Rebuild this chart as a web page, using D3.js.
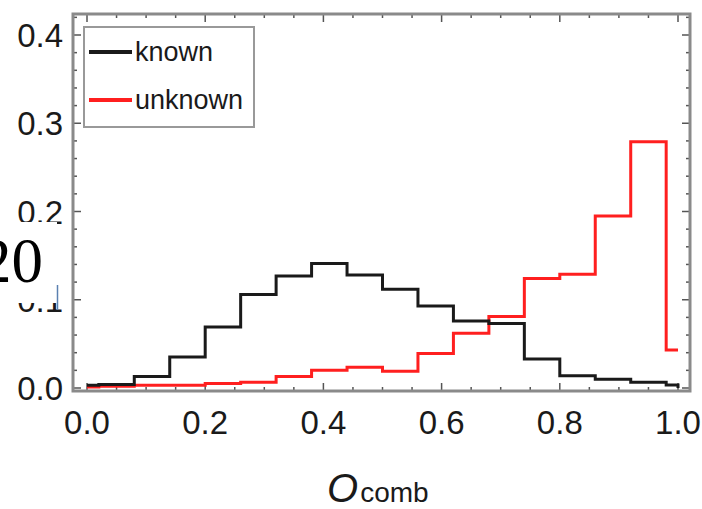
<html>
<head>
  <title>O_comb histogram</title>
  <script src='https://d3js.org/d3.v7.min.js'></script>
  <style>
    body { margin: 0; background: #fff; }
    text { font-family: 'Liberation Sans', Arial, sans-serif; fill: #1a1a1a; }
  </style>
</head>
<body>
<script>
  // bin edges and heights
  var binEdges = [0, 0.02, 0.08, 0.14, 0.20, 0.26, 0.32, 0.38, 0.44, 0.50, 0.56, 0.62, 0.68, 0.74, 0.80, 0.86, 0.92, 0.98, 1.0];
  var knownVals = [0.003, 0.004, 0.013, 0.035, 0.069, 0.106, 0.127, 0.141, 0.128, 0.112, 0.093, 0.076, 0.073, 0.033, 0.014, 0.010, 0.0065, 0.0035];
  var unknownVals = [0.001, 0.002, 0.003, 0.003, 0.005, 0.0065, 0.013, 0.020, 0.0235, 0.019, 0.039, 0.062, 0.081, 0.124, 0.129, 0.195, 0.279, 0.043];
  var xTicks = [0, 0.2, 0.4, 0.6, 0.8, 1.0];
  var yTicks = [0, 0.1, 0.2, 0.3, 0.4];
  var seriesNames = ['known', 'unknown'];
  var seriesColors = ['#1a1a1a', '#ff1f1f'];

  var width = 702, height = 509;
  var frame = {left: 73, right: 690, top: 14, bottom: 391};

  var svg = d3.select('body').append('svg')
    .attr('width', width)
    .attr('height', height);

  var x = d3.scaleLinear().domain([0, 1]).range([87, 678]);
  var y = d3.scaleLinear().domain([0, 0.4]).range([388, 35]);

  // ticks (inward, all four sides)
  var ticks = svg.append('g').attr('stroke', '#555').attr('stroke-width', 1.5);
  d3.range(0, 1.0001, 0.05).forEach(function(v) {
    var major = Math.abs(v * 5 - Math.round(v * 5)) < 1e-6;
    var len = major ? 8 : 4;
    ticks.append('line').attr('x1', x(v)).attr('x2', x(v)).attr('y1', frame.bottom).attr('y2', frame.bottom - len);
    ticks.append('line').attr('x1', x(v)).attr('x2', x(v)).attr('y1', frame.top).attr('y2', frame.top + len);
  });
  d3.range(0, 0.4201, 0.02).forEach(function(v) {
    var major = Math.abs(v * 10 - Math.round(v * 10)) < 1e-6;
    var len = major ? 8 : 4;
    ticks.append('line').attr('y1', y(v)).attr('y2', y(v)).attr('x1', frame.left).attr('x2', frame.left + len);
    ticks.append('line').attr('y1', y(v)).attr('y2', y(v)).attr('x1', frame.right).attr('x2', frame.right - len);
  });

  // step outlines
  function stepPoints(vals, dropEnd) {
    var pts = vals.map(function(v, i) { return [binEdges[i], v]; });
    pts.push([binEdges[binEdges.length - 1], vals[vals.length - 1]]);
    if (dropEnd) pts.push([binEdges[binEdges.length - 1], 0]);
    return pts;
  }
  var line = d3.line()
    .x(function(d) { return x(d[0]); })
    .y(function(d) { return y(d[1]); })
    .curve(d3.curveStepAfter);

  svg.append('path')
    .attr('d', line(stepPoints(unknownVals, false)))
    .attr('fill', 'none').attr('stroke', seriesColors[1]).attr('stroke-width', 3);
  svg.append('path')
    .attr('d', line(stepPoints(knownVals, true)))
    .attr('fill', 'none').attr('stroke', seriesColors[0]).attr('stroke-width', 3);

  // frame
  svg.append('rect')
    .attr('x', frame.left).attr('y', frame.top)
    .attr('width', frame.right - frame.left).attr('height', frame.bottom - frame.top)
    .attr('fill', 'none').attr('stroke', '#8a8a8a').attr('stroke-width', 3);

  // tick labels
  svg.append('g').selectAll('text').data(xTicks).enter().append('text')
    .attr('x', function(d) { return x(d); })
    .attr('y', 434)
    .attr('text-anchor', 'middle')
    .style('font-size', '33px')
    .text(function(d) { return d.toFixed(1); });
  svg.append('g').selectAll('text').data(yTicks).enter().append('text')
    .attr('x', 63)
    .attr('y', function(d) { return y(d) + 12; })
    .attr('text-anchor', 'end')
    .style('font-size', '33px')
    .text(function(d) { return d.toFixed(1); });

  // axis label
  var xl = svg.append('text').attr('x', 327).attr('y', 502);
  xl.append('tspan').style('font-size', '40px').style('font-style', 'italic').text('O');
  xl.append('tspan').style('font-size', '28px').attr('dx', 2).text('comb');

  // legend
  var legend = svg.append('g');
  legend.append('rect')
    .attr('x', 84).attr('y', 27).attr('width', 170).attr('height', 100)
    .attr('fill', '#fff').attr('stroke', '#999').attr('stroke-width', 2);
  seriesNames.forEach(function(name, i) {
    var ly = 52 + i * 48;
    legend.append('line')
      .attr('x1', 89).attr('x2', 132).attr('y1', ly).attr('y2', ly)
      .attr('stroke', seriesColors[i]).attr('stroke-width', 4);
    legend.append('text')
      .attr('x', 135).attr('y', ly + 9)
      .style('font-size', '27px')
      .text(name);
  });

  // pasted-over box on the left
  svg.append('rect')
    .attr('x', 0).attr('y', 222).attr('width', 57).attr('height', 81)
    .attr('fill', '#fff');
  svg.append('line')
    .attr('x1', 57.5).attr('x2', 57.5).attr('y1', 285).attr('y2', 310)
    .attr('stroke', '#5b80b0').attr('stroke-width', 1.5);
  svg.append('text')
    .attr('x', 43).attr('y', 282)
    .attr('text-anchor', 'end')
    .style('font-family', "'Liberation Serif', 'Times New Roman', serif")
    .style('font-size', '63px')
    .style('fill', '#000')
    .text('20');
</script>
</body>
</html>
